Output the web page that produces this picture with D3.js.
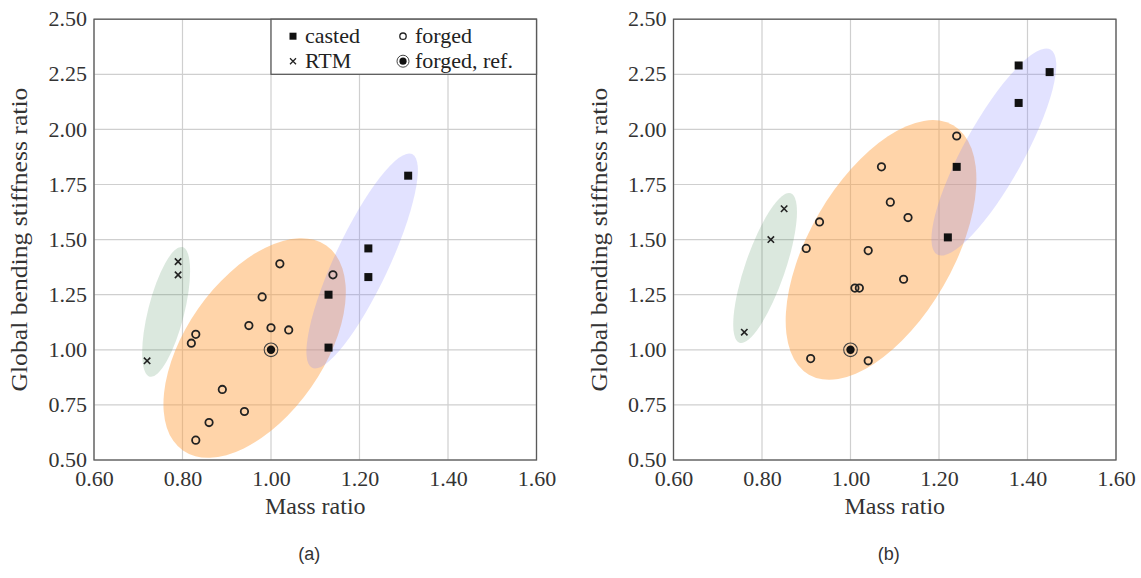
<!DOCTYPE html>
<html><head><meta charset="utf-8">
<script src="https://cdn.jsdelivr.net/npm/d3@7"></script>
<style>body{margin:0;background:#fff}svg{display:block}</style>
</head><body>
<svg id="c" width="1141" height="578"></svg>
<script>
// ---------- data ----------
const xTicks = [0.60, 0.80, 1.00, 1.20, 1.40, 1.60];
const yTicks = [0.50, 0.75, 1.00, 1.25, 1.50, 1.75, 2.00, 2.25, 2.50];
const xLabel = "Mass ratio";
const yLabel = "Global bending stiffness ratio";
const panelCaptions = ["(a)", "(b)"];
const legendLabels = ["casted", "forged", "RTM", "forged, ref."];

// panel (a)
const aCasted = [[1.31,1.79],[1.22,1.46],[1.22,1.33],[1.13,1.25],[1.13,1.01]];
const aRTM    = [[0.79,1.40],[0.79,1.34],[0.72,0.95]];
const aForged = [[1.02,1.39],[1.14,1.34],[0.98,1.24],[0.95,1.11],[1.00,1.10],[1.04,1.09],
                 [0.83,1.07],[0.82,1.03],[0.89,0.82],[0.94,0.72],[0.86,0.67],[0.83,0.59]];
const aRef    = [[1.00,1.00]];
// ellipses: [centerMass, centerStiff, majorTipMass, majorTipStiff, minor/major ratio]
const aEllForged = [0.963, 1.008, 1.125, 1.473, 0.55];
const aEllCasted = [1.206, 1.403, 1.319, 1.888, 0.23];
const aEllRTM    = [0.763, 1.172, 0.800, 1.466, 0.27];

// panel (b)
const bCasted = [[1.38,2.29],[1.45,2.26],[1.38,2.12],[1.24,1.83],[1.22,1.51]];
const bRTM    = [[0.85,1.64],[0.82,1.50],[0.76,1.08]];
const bForged = [[1.24,1.97],[1.07,1.83],[1.09,1.67],[1.13,1.60],[0.93,1.58],[0.90,1.46],
                 [1.04,1.45],[1.12,1.32],[1.01,1.28],[1.02,1.28],[0.91,0.96],[1.04,0.95]];
const bRef    = [[1.00,1.00]];
const bEllForged = [1.069, 1.453, 1.232, 2.019, 0.5];
const bEllCasted = [1.324, 1.897, 1.452, 2.362, 0.256];
const bEllRTM    = [0.807, 1.371, 0.865, 1.710, 0.253];

// ---------- drawing ----------
const svg = d3.select("#c");
const SERIF = "Liberation Serif, Times New Roman, serif";
const COL = {
  forged: {fill: "#ffa040", op: 0.45},
  casted: {fill: "#8080ff", op: 0.23},
  rtm:    {fill: "#4a8a5a", op: 0.20}
};

function panel(ox, cfg) {
  const x = d3.scaleLinear().domain([0.6, 1.6]).range([ox, ox + 442.5]);
  const y = d3.scaleLinear().domain([0.5, 2.5]).range([460, 19.2]);
  const g = svg.append("g");

  // grid
  g.append("g").selectAll("line").data(xTicks).join("line")
    .attr("x1", d => x(d)).attr("x2", d => x(d)).attr("y1", y(0.5)).attr("y2", y(2.5))
    .attr("stroke", "#cfcfcf").attr("stroke-width", 1.2);
  g.append("g").selectAll("line").data(yTicks).join("line")
    .attr("y1", d => y(d)).attr("y2", d => y(d)).attr("x1", x(0.6)).attr("x2", x(1.6))
    .attr("stroke", "#cfcfcf").attr("stroke-width", 1.2);

  // ellipses
  function ell(e, c) {
    const cx = x(e[0]), cy = y(e[1]), tx = x(e[2]), ty = y(e[3]);
    const a = Math.hypot(tx - cx, ty - cy);
    const ang = Math.atan2(ty - cy, tx - cx) * 180 / Math.PI;
    g.append("ellipse").attr("cx", 0).attr("cy", 0).attr("rx", a).attr("ry", a * e[4])
      .attr("transform", `translate(${cx},${cy}) rotate(${ang})`)
      .attr("fill", c.fill).attr("fill-opacity", c.op);
  }
  ell(cfg.eRTM, COL.rtm);
  ell(cfg.eForged, COL.forged);
  ell(cfg.eCasted, COL.casted);

  // axes (labels only)
  const xa = d3.axisBottom(x).tickValues(xTicks).tickFormat(d3.format(".2f")).tickSize(0).tickPadding(0);
  const ya = d3.axisLeft(y).tickValues(yTicks).tickFormat(d3.format(".2f")).tickSize(0).tickPadding(0);
  const gx = g.append("g").attr("transform", `translate(0,${y(0.5)})`).call(xa)
    .attr("font-family", SERIF).attr("font-size", 22);
  gx.select(".domain").remove();
  gx.selectAll("text").attr("dy", null).attr("y", 26).style("font-family", SERIF).style("font-size", "22px").attr("fill", "#333");
  const gy = g.append("g").attr("transform", `translate(${x(0.6)},0)`).call(ya)
    .attr("font-family", SERIF).attr("font-size", 22);
  gy.select(".domain").remove();
  gy.selectAll("text").attr("dy", "0.3em").attr("x", -7).style("font-family", SERIF).style("font-size", "22px").attr("fill", "#333");

  // markers
  const mk = g.append("g");
  mk.selectAll("rect").data(cfg.casted).join("rect")
    .attr("x", d => x(d[0]) - 4).attr("y", d => y(d[1]) - 4).attr("width", 8).attr("height", 8).attr("fill", "#111");
  mk.selectAll("circle.f").data(cfg.forged).join("circle").attr("class", "f")
    .attr("cx", d => x(d[0])).attr("cy", d => y(d[1])).attr("r", 3.7)
    .attr("fill", "none").attr("stroke", "#222").attr("stroke-width", 1.8);
  mk.selectAll("path.x").data(cfg.rtm).join("path").attr("class", "x")
    .attr("d", d => { const px = x(d[0]), py = y(d[1]), s = 3.2;
      return `M${px-s},${py-s}L${px+s},${py+s}M${px-s},${py+s}L${px+s},${py-s}`; })
    .attr("stroke", "#222").attr("stroke-width", 1.6);
  cfg.ref.forEach(d => {
    mk.append("circle").attr("cx", x(d[0])).attr("cy", y(d[1])).attr("r", 6.8)
      .attr("fill", "none").attr("stroke", "#444").attr("stroke-width", 1.1);
    mk.append("circle").attr("cx", x(d[0])).attr("cy", y(d[1])).attr("r", 4.2).attr("fill", "#111");
  });

  // frame
  g.append("rect").attr("x", x(0.6)).attr("y", y(2.5)).attr("width", x(1.6) - x(0.6)).attr("height", y(0.5) - y(2.5))
    .attr("fill", "none").attr("stroke", "#5a5a5a").attr("stroke-width", 1.3);

  // axis labels
  g.append("text").attr("x", (x(0.6) + x(1.6)) / 2).attr("y", 514).attr("text-anchor", "middle")
    .style("font-family", SERIF).style("font-size", "24px").attr("fill", "#333").text(xLabel);
  g.append("text").attr("transform", `translate(${ox - 67},${(y(0.5) + y(2.5)) / 2}) rotate(-90)`)
    .attr("text-anchor", "middle").attr("textLength", 304).attr("lengthAdjust", "spacingAndGlyphs")
    .style("font-family", SERIF).style("font-size", "24px").attr("fill", "#333").text(yLabel);
  g.append("text").attr("x", (x(0.6) + x(1.6)) / 2 - 6).attr("y", 560).attr("text-anchor", "middle")
    .style("font-family", "Liberation Sans, Arial, sans-serif").style("font-size", "18px").attr("fill", "#333").text(cfg.caption);

  if (cfg.legend) {
    const lx0 = x(1.0), ly0 = y(2.5), lx1 = x(1.6), ly1 = y(2.25);
    const lg = g.append("g");
    lg.append("rect").attr("x", lx0).attr("y", ly0).attr("width", lx1 - lx0).attr("height", ly1 - ly0)
      .attr("fill", "#fff").attr("stroke", "#5a5a5a").attr("stroke-width", 1.3);
    const c1 = lx0 + 22, c2 = lx0 + 132, r1 = ly0 + 17, r2 = ly0 + 42;
    lg.append("rect").attr("x", c1 - 3.5).attr("y", r1 - 3.5).attr("width", 7).attr("height", 7).attr("fill", "#111");
    lg.append("circle").attr("cx", c2).attr("cy", r1).attr("r", 3.2).attr("fill", "none").attr("stroke", "#222").attr("stroke-width", 1.3);
    lg.append("path").attr("d", `M${c1-3},${r2-3}L${c1+3},${r2+3}M${c1-3},${r2+3}L${c1+3},${r2-3}`).attr("stroke", "#222").attr("stroke-width", 1.3);
    lg.append("circle").attr("cx", c2).attr("cy", r2).attr("r", 6).attr("fill", "none").attr("stroke", "#444").attr("stroke-width", 1);
    lg.append("circle").attr("cx", c2).attr("cy", r2).attr("r", 3.6).attr("fill", "#111");
    const pos = [[c1 + 12, r1], [c2 + 12, r1], [c1 + 12, r2], [c2 + 12, r2]];
    legendLabels.forEach((t, i) => {
      lg.append("text").attr("x", pos[i][0]).attr("y", pos[i][1]).attr("dy", "0.32em")
        .style("font-family", SERIF).style("font-size", "22px").attr("fill", "#222").text(t);
    });
  }
}

panel(94, {casted: aCasted, rtm: aRTM, forged: aForged, ref: aRef,
  eForged: aEllForged, eCasted: aEllCasted, eRTM: aEllRTM, caption: panelCaptions[0], legend: true});
panel(673.5, {casted: bCasted, rtm: bRTM, forged: bForged, ref: bRef,
  eForged: bEllForged, eCasted: bEllCasted, eRTM: bEllRTM, caption: panelCaptions[1], legend: false});
</script>
</body></html>
